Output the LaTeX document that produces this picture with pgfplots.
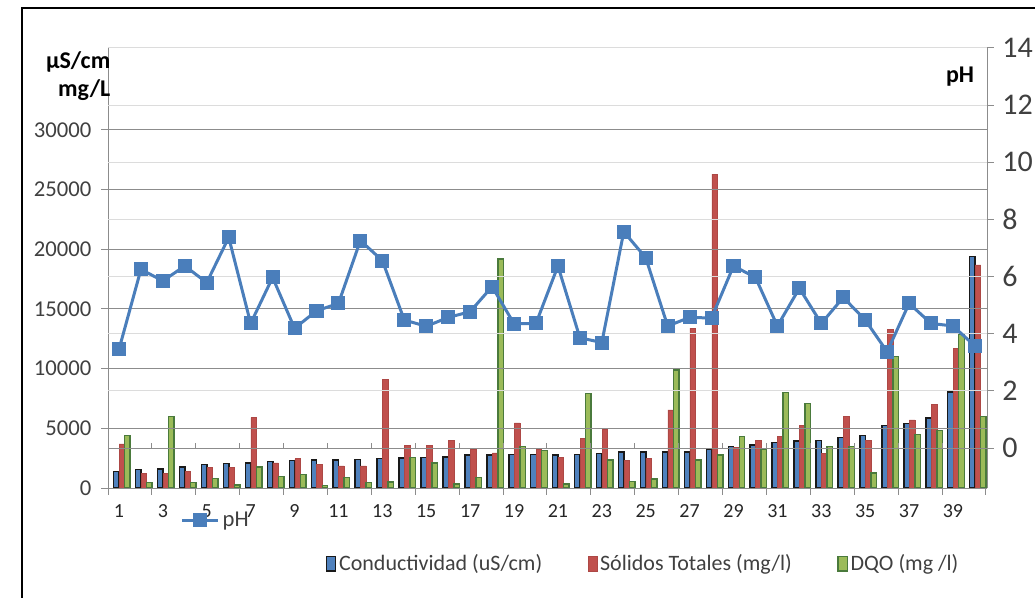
\documentclass[border=0pt]{standalone}
\usepackage{pgfplots}
\usepackage{pgfplotstable}
\pgfplotsset{compat=1.18}
\usepackage{fontspec}
\setmainfont{Carlito}
\definecolor{cond}{HTML}{4F81BD}
\definecolor{sol}{HTML}{C0504D}
\definecolor{dqo}{HTML}{9BBB59}
\definecolor{dqoedge}{HTML}{4A7A3C}
\definecolor{phc}{HTML}{4A7EBB}
\definecolor{gridd}{HTML}{8C8C8C}
\definecolor{gridl}{HTML}{DCDCDC}
\definecolor{txt}{HTML}{404040}

\pgfplotstableread{
x cond sol dqo ph
1 1400 3700 4400 3.45
2 1550 1200 450 6.25
3 1600 1200 6000 5.85
4 1750 1400 450 6.37
5 1950 1750 800 5.79
6 2050 1750 250 7.37
7 2100 5900 1750 4.36
8 2200 2100 950 5.97
9 2300 2450 1150 4.19
10 2350 2000 220 4.80
11 2350 1850 900 5.06
12 2400 1850 450 7.26
13 2450 9100 500 6.56
14 2500 3600 2550 4.48
15 2550 3600 2100 4.26
16 2600 4000 350 4.57
17 2750 3250 900 4.77
18 2750 2950 19200 5.65
19 2800 5450 3500 4.35
20 2800 3250 3150 4.36
21 2750 2550 350 6.37
22 2800 4150 7900 3.86
23 2900 4900 2350 3.69
24 3000 2300 550 7.57
25 3000 2500 750 6.66
26 3000 6550 9900 4.27
27 3000 13400 2350 4.57
28 3250 26300 2750 4.55
29 3500 3400 4300 6.37
30 3600 4000 3250 5.97
31 3800 4350 8000 4.27
32 3950 5250 7100 5.59
33 4000 2900 3500 4.36
34 4250 6000 3500 5.27
35 4400 4000 1250 4.48
36 5250 13300 11000 3.37
37 5400 5700 4500 5.06
38 5850 7000 4800 4.36
39 8050 11700 12900 4.27
40 19400 18700 6000 3.57
}\data

\begin{document}
\begin{tikzpicture}[x=0.75pt,y=0.75pt]
\path[use as bounding box] (0,0) rectangle (1035,597);
\draw[black, line width=1.5pt] (22,-5) -- (22,589) -- (1040,589);

\begin{axis}[
  at={(81pt,81.75pt)}, anchor=south west,
  scale only axis, width=659.25pt, height=330pt,
  xmin=0.5, xmax=40.55, ymin=0, ymax=36870,
  axis x line*=bottom, axis y line*=left,
  axis line style={gridd, line width=0.75pt},
  axis on top,
  ybar, bar width=4.125pt,
  xtick={1,3,...,39},
  major x tick style={draw=none},
  minor xtick={0.5,2.5,...,40.5},
  minor x tick style={gridd, line width=0.75pt},
  minor tick length=5pt,
  major y tick style={gridd, line width=0.75pt},
  major tick length=5pt,
  tick align=outside,
  ytick={0,5000,...,30000},
  ymajorgrids,
  major y grid style={gridd, line width=0.75pt},
  scaled y ticks=false,
  /pgf/number format/assume math mode=true,
  yticklabel style={/pgf/number format/set thousands separator={}, font=\fontsize{17}{20}\selectfont, text=txt, xshift=-4pt},
  xticklabel style={font=\fontsize{15}{18}\selectfont, text=black!85, yshift=-4pt},
  legend columns=3,
  legend style={at={(0.609,-0.172)}, anchor=center, draw=none, fill=none,
    font=\fontsize{16.5}{20}\selectfont, text=txt,
    /tikz/every even column/.append style={column sep=32pt}},
  legend image code/.code={\draw[#1] (0pt,-5.5pt) rectangle (7pt,5.5pt);},
]
\addplot[fill=cond, draw=black!90, line width=1.1pt, bar shift=-1.875pt] table[x=x,y=cond]{\data};
\addplot[fill=sol, draw=sol!90!black, line width=0.4pt, bar shift=2.25pt] table[x=x,y=sol]{\data};
\addplot[fill=dqo, draw=dqoedge, line width=1.1pt, bar shift=6.375pt] table[x=x,y=dqo]{\data};
\legend{Conductividad (uS/cm), Sólidos Totales (mg/l), DQO (mg /l)}
\end{axis}

\begin{axis}[
  at={(81pt,81.75pt)}, anchor=south west,
  scale only axis, width=659.25pt, height=330pt,
  xmin=0.5, xmax=40.55, ymin=-1.4, ymax=14,
  axis x line=none, axis y line*=right,
  axis line style={gridd, line width=0.75pt},
  ytick={0,2,...,14},
  ymajorgrids,
  major y grid style={gridl, line width=0.75pt},
  major y tick style={gridd, line width=0.75pt},
  tick align=outside, major tick length=5pt,
  /pgf/number format/assume math mode=true,
  yticklabel style={font=\fontsize{22.5}{26}\selectfont, text=txt, xshift=3pt},
  legend style={at={(0.123,-0.073)}, anchor=center, draw=none, fill=none,
    font=\fontsize{17}{20}\selectfont, text=txt, inner sep=0pt},
  legend image code/.code={\draw[mark repeat=2,mark phase=2,#1] plot coordinates {(0pt,0pt) (13.5pt,0pt) (27pt,0pt)};},
]
\draw[gridd, line width=0.75pt] (axis cs:0.5,0) -- (axis cs:40.55,0);
\pgfplotsinvokeforeach{2.5,4.5,...,38.5}{\draw[gridd, line width=0.75pt] (axis cs:#1,0) -- ++(0pt,4pt);}
\addplot[phc, line width=2.25pt, mark=square*, mark size=4.9pt, mark options={fill=phc, draw=phc, line width=0pt}] table[x=x,y=ph]{\data};
\legend{pH}
\end{axis}

\node[anchor=east, font=\bfseries\fontsize{18}{22}\selectfont] at (115,535) {µS/cm};
\node[anchor=east, font=\bfseries\fontsize{18}{22}\selectfont] at (115,507) {mg/L};
\node[font=\bfseries\fontsize{18}{22}\selectfont] at (960,520) {pH};
\end{tikzpicture}
\end{document}
